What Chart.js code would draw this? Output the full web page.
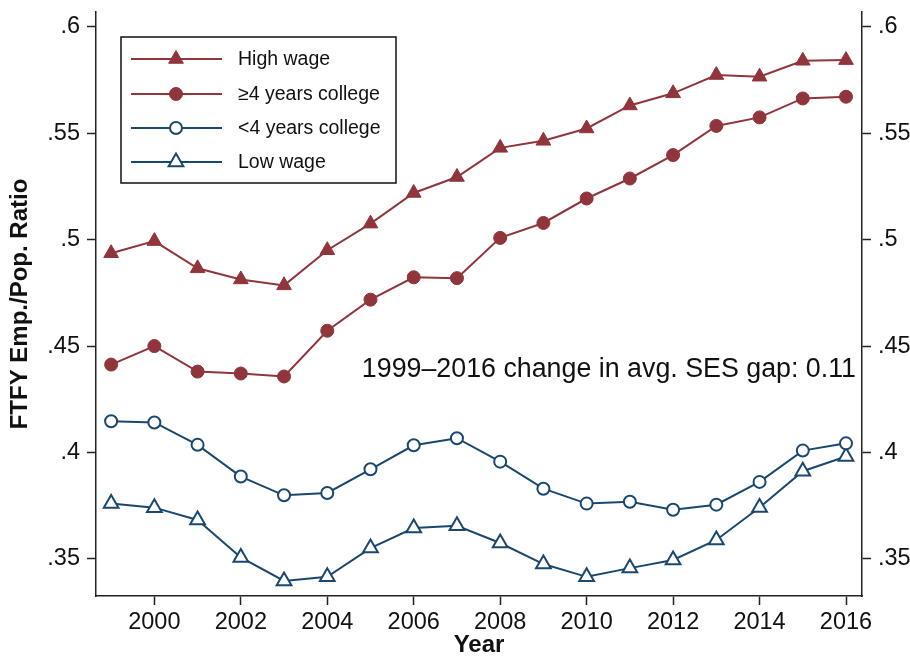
<!DOCTYPE html>
<html>
<head>
<meta charset="utf-8">
<script src="https://cdn.jsdelivr.net/npm/chart.js@4/dist/chart.umd.min.js"></script>
<style>
  html, body { margin: 0; padding: 0; background: #fff; }
  #wrap { width: 910px; height: 657px; }
</style>
</head>
<body>
<div id="wrap"><canvas id="c" width="910" height="657"></canvas></div>
<script>
// Full-time full-year employment-to-population ratio by group, 1999-2016
const years = [1999, 2000, 2001, 2002, 2003, 2004, 2005, 2006, 2007, 2008,
               2009, 2010, 2011, 2012, 2013, 2014, 2015, 2016];

const highWage = [0.4936, 0.4993, 0.4865, 0.4813, 0.4785, 0.4950, 0.5075, 0.5219, 0.5294, 0.5431,
                  0.5464, 0.5522, 0.5630, 0.5687, 0.5773, 0.5765, 0.5840, 0.5843];
const college4Plus = [0.4413, 0.4500, 0.4380, 0.4371, 0.4357, 0.4572, 0.4718, 0.4823, 0.4819, 0.5008,
                      0.5078, 0.5193, 0.5287, 0.5397, 0.5534, 0.5574, 0.5663, 0.5671];
const collegeUnder4 = [0.4147, 0.4141, 0.4036, 0.3887, 0.3799, 0.3810, 0.3921, 0.4034, 0.4067, 0.3957,
                       0.3830, 0.3760, 0.3769, 0.3731, 0.3755, 0.3862, 0.4009, 0.4043];
const lowWage = [0.3760, 0.3741, 0.3683, 0.3507, 0.3397, 0.3416, 0.3551, 0.3645, 0.3656, 0.3575,
                 0.3476, 0.3416, 0.3457, 0.3495, 0.3589, 0.3742, 0.3912, 0.3981];

const seriesNames = ['High wage', '\u22654 years college', '<4 years college', 'Low wage'];

const xTickValues = [2000, 2002, 2004, 2006, 2008, 2010, 2012, 2014, 2016];
const yTickValues = [0.35, 0.40, 0.45, 0.50, 0.55, 0.60];
const yTickLabels = ['.35', '.4', '.45', '.5', '.55', '.6'];

const noteText = '1999\u20132016 change in avg. SES gap: 0.11';

const RED = '#90353B';
const NAVY = '#1A476F';
const FONT = '"Liberation Sans", Arial, Helvetica, sans-serif';

function pts(vals) { return years.map((y, i) => ({ x: y, y: vals[i] })); }

function ds(label, vals, color, style, filled, radius) {
  return {
    label: label,
    data: pts(vals),
    borderColor: color,
    backgroundColor: color,
    borderWidth: 2,
    pointStyle: style,
    pointRadius: radius,
    pointHoverRadius: radius,
    pointBackgroundColor: filled ? color : '#fff',
    pointBorderColor: color,
    pointBorderWidth: filled ? 1 : 2,
    tension: 0,
    yAxisID: 'y',
    clip: false
  };
}

// Boxed legend drawn inside the plot area, upper left
const innerLegend = {
  id: 'innerLegend',
  afterDatasetsDraw(chart) {
    const ctx = chart.ctx;
    const box = { x: 121, y: 37, w: 275, h: 146 };
    ctx.save();
    ctx.fillStyle = '#fff';
    ctx.fillRect(box.x, box.y, box.w, box.h);
    ctx.strokeStyle = '#111';
    ctx.lineWidth = 1.5;
    ctx.strokeRect(box.x, box.y, box.w, box.h);
    const rowY = [59, 94, 128, 162];
    chart.data.datasets.forEach((d, i) => {
      const y = rowY[i];
      ctx.strokeStyle = d.borderColor;
      ctx.lineWidth = 2;
      ctx.beginPath();
      ctx.moveTo(131, y);
      ctx.lineTo(222, y);
      ctx.stroke();
      ctx.fillStyle = d.pointBackgroundColor;
      ctx.strokeStyle = d.pointBorderColor;
      ctx.lineWidth = d.pointBorderWidth;
      Chart.helpers.drawPoint(ctx, {
        pointStyle: d.pointStyle,
        radius: d.pointRadius,
        rotation: 0,
        borderWidth: d.pointBorderWidth
      }, 176, y);
      ctx.fillStyle = '#111';
      ctx.font = '19.5px ' + FONT;
      ctx.textAlign = 'left';
      ctx.textBaseline = 'middle';
      ctx.fillText(d.label, 238, y + 1);
    });
    ctx.restore();
  }
};

// Summary note inside the plot area
const noteLabel = {
  id: 'noteLabel',
  afterDatasetsDraw(chart) {
    const ctx = chart.ctx;
    ctx.save();
    ctx.fillStyle = '#111';
    ctx.font = '26.8px ' + FONT;
    ctx.textAlign = 'right';
    ctx.textBaseline = 'alphabetic';
    ctx.fillText(noteText, 856, 377);
    ctx.restore();
  }
};

const yTickCfg = {
  color: '#111',
  font: { family: FONT, size: 23.5 },
  padding: 7,
  callback: (v) => {
    const i = yTickValues.findIndex(t => Math.abs(t - v) < 1e-9);
    return i >= 0 ? yTickLabels[i] : '';
  }
};

function fixWidth(w) {
  return (s) => { s.width = w; s.paddingTop = 0; s.paddingBottom = 0; };
}

new Chart(document.getElementById('c'), {
  type: 'line',
  data: {
    datasets: [
      ds(seriesNames[0], highWage, RED, 'triangle', true, 8.5),
      ds(seriesNames[1], college4Plus, RED, 'circle', true, 6.5),
      ds(seriesNames[2], collegeUnder4, NAVY, 'circle', false, 6),
      ds(seriesNames[3], lowWage, NAVY, 'triangle', false, 8.5)
    ]
  },
  options: {
    responsive: false,
    animation: false,
    events: [],
    layout: { padding: { top: 12, left: 0, right: 0, bottom: 0 } },
    plugins: {
      legend: { display: false },
      tooltip: { enabled: false }
    },
    scales: {
      x: {
        type: 'linear',
        position: 'bottom',
        min: 1998.65,
        max: 2016.37,
        afterBuildTicks: (s) => { s.ticks = xTickValues.map(v => ({ value: v })); },
        afterFit: (s) => { s.height = 61; s.paddingLeft = 0; s.paddingRight = 0; },
        ticks: {
          color: '#111',
          font: { family: FONT, size: 23.5 },
          padding: 3,
          maxRotation: 0,
          autoSkip: false,
          callback: (v) => String(v)
        },
        grid: { display: true, drawOnChartArea: false, tickLength: 9, tickColor: '#222', tickWidth: 1.5 },
        border: { display: true, color: '#222', width: 1.5 },
        title: {
          display: true,
          text: 'Year',
          color: '#111',
          font: { family: FONT, size: 24, weight: 'bold', lineHeight: 1 },
          padding: { top: 0, bottom: 0 }
        }
      },
      y: {
        type: 'linear',
        position: 'left',
        min: 0.3326,
        max: 0.6069,
        afterBuildTicks: (s) => { s.ticks = yTickValues.map(v => ({ value: v })); },
        afterFit: fixWidth(96),
        ticks: yTickCfg,
        grid: { display: true, drawOnChartArea: false, tickLength: 9, tickColor: '#222', tickWidth: 1.5 },
        border: { display: true, color: '#222', width: 1.5 },
        title: {
          display: true,
          text: 'FTFY Emp./Pop. Ratio',
          color: '#111',
          font: { family: FONT, size: 24, weight: 'bold', lineHeight: 1 },
          padding: { top: 8, bottom: 0 }
        }
      },
      y2: {
        type: 'linear',
        position: 'right',
        min: 0.3326,
        max: 0.6069,
        afterBuildTicks: (s) => { s.ticks = yTickValues.map(v => ({ value: v })); },
        afterFit: fixWidth(48),
        ticks: yTickCfg,
        grid: { display: true, drawOnChartArea: false, tickLength: 9, tickColor: '#222', tickWidth: 1.5 },
        border: { display: true, color: '#222', width: 1.5 }
      }
    }
  },
  plugins: [innerLegend, noteLabel]
});
</script>
</body>
</html>
